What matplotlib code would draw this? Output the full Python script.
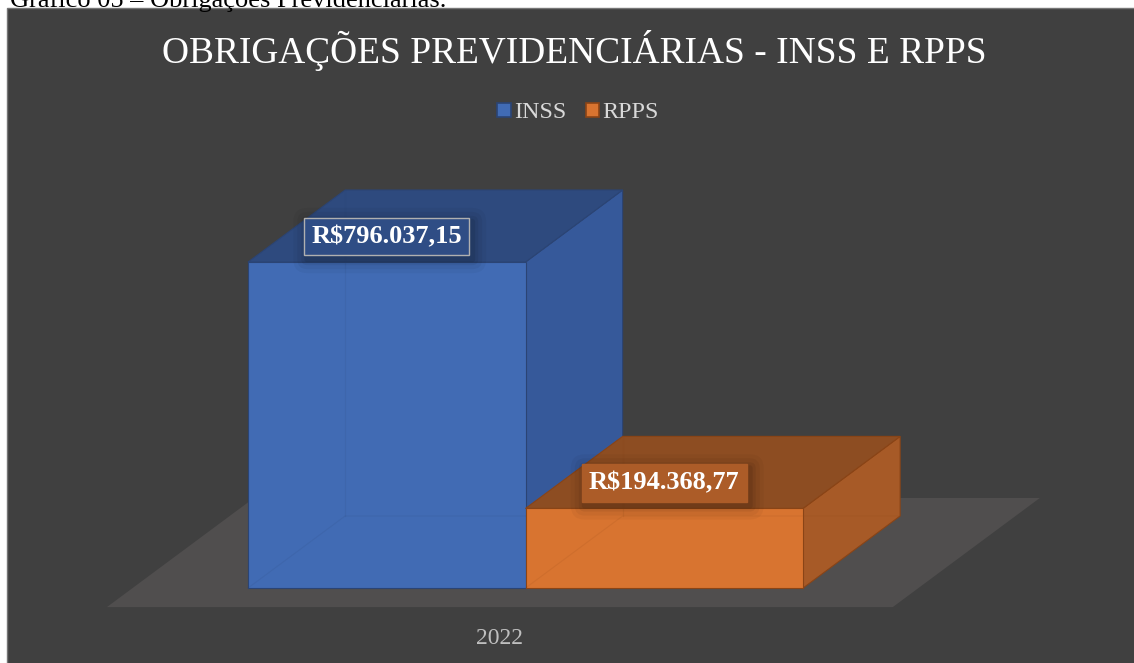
import matplotlib
matplotlib.use('Agg')
import matplotlib.pyplot as plt
from matplotlib.patches import Polygon, Rectangle, Patch, FancyBboxPatch

# ---- dados ----
categorias = ['INSS', 'RPPS']
valores = [796037.15, 194368.77]
ano = '2022'
titulo = 'OBRIGAÇÕES PREVIDENCIÁRIAS - INSS E RPPS'
legenda_fig = 'Gráfico 05 – Obrigações Previdenciárias.'

# ---- cores ----
cor_frente = ['#416bb4', '#d87430']
cor_topo = ['#2e4a7e', '#8d4d22']
cor_lado = ['#36599a', '#a75a27']
cor_borda = ['#2b4474', '#8a4416']
cor_rotulo = ['#2f4d85', '#ac5c28']
cor_borda_rotulo = ['#b0b0b0', '#ac5c28']

plt.rcParams['font.family'] = ['Liberation Serif', 'DejaVu Serif']


def moeda(v):
    s = '{:,.2f}'.format(v)
    s = s.replace(',', '#').replace('.', ',').replace('#', '.')
    return 'R$' + s


W, H = 1134, 663
fig = plt.figure(figsize=(W / 100, H / 100), dpi=100)
fig.patch.set_facecolor('white')

# area escura do grafico
fig.patches.append(Rectangle((7 / W, -0.01), 1, 1.01 - 8 / H, transform=fig.transFigure,
                             facecolor='#404040', edgecolor='#767676', lw=1, zorder=-5))

fig.text(10 / W, 1 - 7 / H, legenda_fig, fontsize=19, color='black',
         ha='left', va='baseline', zorder=-4)

ax = fig.add_axes([0, 0, 1, 1])
ax.set_facecolor('none')
ax.axis('off')
# 1 unidade em x = 277.5 px ; y em reais
ax.set_xlim(-248 / 277.5, (W - 248) / 277.5)
ax.set_ylim(-183000, 1436000)

# profundidade (perspectiva)
ddx, ddy = 0.35, 176000

# piso
fx0, fx1 = -0.416, 2.416
f0, f1 = -0.264, 1.25
piso = Polygon([(fx0 + f0 * ddx, f0 * ddy), (fx1 + f0 * ddx, f0 * ddy),
                (fx1 + f1 * ddx, f1 * ddy), (fx0 + f1 * ddx, f1 * ddy)],
               closed=True, facecolor='#504e4e', edgecolor='none', zorder=1)
ax.add_patch(piso)

for i, v in enumerate(valores):
    x = i
    lado = Polygon([(x + 1, 0), (x + 1 + ddx, ddy), (x + 1 + ddx, v + ddy), (x + 1, v)],
                   facecolor=cor_lado[i], edgecolor=cor_borda[i], lw=0.8, zorder=2 + i)
    topo = Polygon([(x, v), (x + 1, v), (x + 1 + ddx, v + ddy), (x + ddx, v + ddy)],
                   facecolor=cor_topo[i], edgecolor=cor_borda[i], lw=0.8, zorder=2 + i)
    frente = Rectangle((x, 0), 1, v, facecolor=cor_frente[i], edgecolor=cor_borda[i],
                       lw=0.8, zorder=2 + i)
    ax.add_patch(lado)
    ax.add_patch(topo)
    ax.add_patch(frente)
    # arestas escondidas (face frontal levemente transparente)
    ax.plot([x, x + ddx, x + 1 + ddx], [0, ddy, ddy], color=cor_borda[i], lw=0.8,
            alpha=0.12, zorder=2 + i)
    ax.plot([x + ddx, x + ddx], [ddy, v + ddy], color=cor_borda[i],
            lw=0.8, alpha=0.12, zorder=2 + i)

rotulos = []
for i, v in enumerate(valores):
    t = ax.annotate(moeda(v), xy=(i + 0.5, v), xytext=(0, 13.7), textcoords='offset points',
                    ha='center', va='baseline', fontsize=19, fontweight='bold', color='white',
                    zorder=10,
                    bbox=dict(boxstyle='square,pad=0.27', fc=cor_rotulo[i],
                              ec=cor_borda_rotulo[i], lw=1))
    rotulos.append(t)

# rotulo da categoria
ax.annotate(ano, xy=((fx0 + fx1) / 2 + f0 * ddx, f0 * ddy), xytext=(0, -26.6),
            textcoords='offset points', ha='center', va='baseline',
            fontsize=17, color='#bfbfbf')

fig.text(574 / W, 1 - 63 / H, titulo, fontsize=26.9, color='white',
         ha='center', va='baseline')

handles = [Patch(facecolor=cor_frente[i], edgecolor=cor_borda[i], lw=1.2) for i in range(2)]
fig.legend(handles, categorias, loc='center', bbox_to_anchor=(578 / W, 1 - 113 / H),
           ncol=2, frameon=False, fontsize=17.3, labelcolor='#d9d9d9',
           handlelength=0.58, handleheight=0.58, handletextpad=0.12, columnspacing=0.8,
           borderpad=0)

# sombra suave atras dos rotulos
fig.canvas.draw()
for t in rotulos:
    bb = t.get_bbox_patch().get_window_extent()
    for grow, a in [(14, 0.035), (10, 0.045), (6, 0.06), (3, 0.08)]:
        sh = FancyBboxPatch((bb.x0 - grow + 3, bb.y0 - grow - 4), bb.width + 2 * grow,
                            bb.height + 2 * grow, boxstyle='round,pad=0,rounding_size=%d' % grow,
                            transform=None, fc='black', ec='none', alpha=a, zorder=9)
        ax.add_artist(sh)

fig.savefig('out.png', dpi=100, facecolor='white')
